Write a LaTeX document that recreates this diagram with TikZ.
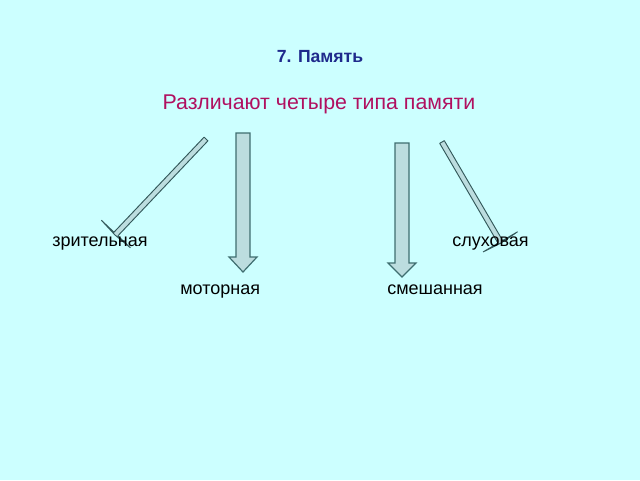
\documentclass[tikz,border=0pt]{standalone}
\usepackage{fontspec}
\setmainfont{Liberation Sans}
\usetikzlibrary{calc}
\definecolor{bg}{HTML}{CCFFFF}
\definecolor{arrfill}{HTML}{BCDDDF}
\definecolor{arrline}{HTML}{3F6E70}
\definecolor{titlecol}{HTML}{1F2A8C}
\definecolor{subcol}{HTML}{B01060}
\tikzset{
  blockarrow/.style={fill=arrfill,draw=arrline,line width=0.9pt,line join=miter},
  thinarrow/.style={fill=arrfill,draw=arrline!80!black,line width=0.7pt,line join=bevel},
  lbl/.style={inner sep=0pt,anchor=base west,font=\fontsize{13.5pt}{16pt}\selectfont}
}
\begin{document}
\begin{tikzpicture}[x=0.75pt,y=-0.75pt]
\fill[bg] (0,0) rectangle (640,480);
\useasboundingbox (0,0) rectangle (640,480);
\node[inner sep=0pt,anchor=base,text=titlecol,font=\bfseries\fontsize{13.2pt}{15pt}\selectfont] (title) at (320,62) {7. Память};
\node[inner sep=0pt,anchor=base,text=subcol,font=\fontsize{16pt}{19pt}\selectfont] (sub) at (319,109) {Различают четыре типа памяти};
% vertical arrows
\draw[blockarrow] (236,133) -- (250,133) -- (250,257) -- (257,257) -- (243,272) -- (229,257) -- (236,257) -- cycle;
\draw[blockarrow] (395,143) -- (409,143) -- (409,263) -- (416,263) -- (402,277) -- (388,263) -- (395,263) -- cycle;
% diagonal arrows
\coordinate (S1) at (206,139);
\coordinate (T1) at (115,235);
\coordinate (B1) at ($(T1)!1pt!(S1)$);
\draw[thinarrow] ($(S1)!2pt!90:(T1)$) -- ($(B1)!2pt!-90:(S1)$) -- ($(B1)!15pt!-90:(S1)$) -- (T1) -- ($(B1)!15pt!90:(S1)$) -- ($(B1)!2pt!90:(S1)$) -- ($(S1)!2pt!-90:(T1)$) -- cycle;
\coordinate (S2) at (442,142);
\coordinate (T2) at (501,243);
\coordinate (B2) at ($(T2)!1pt!(S2)$);
\draw[thinarrow] ($(S2)!2pt!90:(T2)$) -- ($(B2)!2pt!-90:(S2)$) -- ($(B2)!15pt!-90:(S2)$) -- (T2) -- ($(B2)!15pt!90:(S2)$) -- ($(B2)!2pt!90:(S2)$) -- ($(S2)!2pt!-90:(T2)$) -- cycle;
% labels
\node[lbl] (vis) at (52,246) {зрительная};
\node[lbl] (aud) at (452,246) {слуховая};
\node[lbl] (mot) at (180,294) {моторная};
\node[lbl] (mix) at (387,294) {смешанная};
\end{tikzpicture}
\end{document}
